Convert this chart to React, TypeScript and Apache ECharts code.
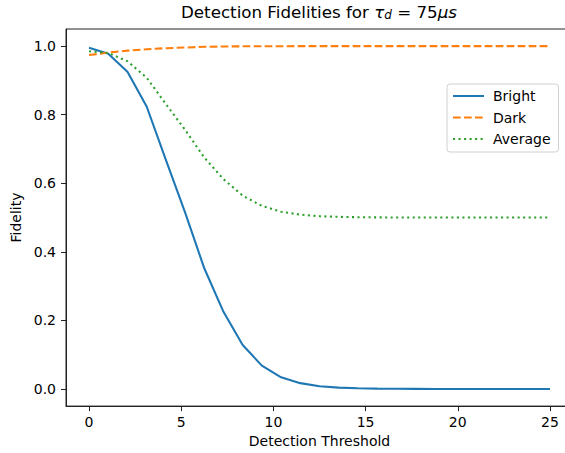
import React, { useEffect, useRef } from "react";
import * as echarts from "echarts";

const thresholds = [0, 1.042, 2.083, 3.125, 4.167, 5.208, 6.25, 7.292, 8.333, 9.375, 10.417, 11.458, 12.5, 13.542, 14.583, 15.625, 16.667, 17.708, 18.75, 19.792, 20.833, 21.875, 22.917, 23.958, 25];
const bright = [0.995, 0.978, 0.925, 0.824, 0.668, 0.515, 0.352, 0.225, 0.128, 0.068, 0.034, 0.017, 0.008, 0.004, 0.002, 0.001, 0.0005, 0.0002, 0, 0, 0, 0, 0, 0, 0];
const dark = [0.974, 0.981, 0.987, 0.991, 0.994, 0.996, 0.998, 0.999, 0.9995, 0.9998, 0.9999, 1, 1, 1, 1, 1, 1, 1, 1, 1, 1, 1, 1, 1, 1];
const average = [0.985, 0.98, 0.956, 0.908, 0.831, 0.756, 0.675, 0.612, 0.564, 0.534, 0.517, 0.5085, 0.504, 0.502, 0.501, 0.5005, 0.5002, 0.5001, 0.5, 0.5, 0.5, 0.5, 0.5, 0.5, 0.5];
const xTicks = [0, 5, 10, 15, 20, 25];
const yTicks = [0, 0.2, 0.4, 0.6, 0.8, 1.0];

const FONT = "DejaVu Sans";
const INNER_W = 580;

export default function App() {
  const ref = useRef<HTMLDivElement>(null);
  useEffect(() => {
    if (!ref.current) return;
    const chart = echarts.init(ref.current, undefined, { renderer: "svg" });
    const pair = (ys: number[]) => thresholds.map((x, i) => [x, ys[i]]);
    chart.setOption({
      animation: false,
      backgroundColor: "#fff",
      textStyle: { fontFamily: FONT },
      title: {
        text: "Detection Fidelities for {i|τ}{sub|d}{n| = 75}{i|μs}",
        left: 181,
        top: 3,
        padding: 0,
        textStyle: {
          fontFamily: FONT,
          fontSize: 16.7,
          fontWeight: "normal",
          color: "#000",
          rich: {
            i: { fontFamily: FONT, fontSize: 16.7, fontStyle: "italic", color: "#000" },
            sub: { fontFamily: FONT, fontSize: 12, fontStyle: "italic", color: "#000", verticalAlign: "bottom", padding: [6, 0, 0, 0] },
            n: { fontFamily: FONT, fontSize: 16.7, color: "#000" },
          },
        },
      },
      grid: { left: 66, top: 29, right: INNER_W - 573, bottom: 46, show: true, borderColor: "#222", borderWidth: 1, backgroundColor: "transparent" },
      legend: {
        orient: "vertical",
        left: 447,
        top: 84,
        padding: [5, 8, 6, 5],
        itemWidth: 31,
        itemHeight: 14,
        itemGap: 7.5,
        borderColor: "#d0d0d0",
        borderWidth: 1,
        borderRadius: 3,
        backgroundColor: "rgba(255,255,255,0.8)",
        itemStyle: { opacity: 0 },
        textStyle: { fontFamily: FONT, fontSize: 14, color: "#000", padding: [0, 0, 0, 4] },
        data: ["Bright", "Dark", "Average"],
      },
      xAxis: {
        type: "value",
        min: -1.25,
        max: 26.25,
        name: "Detection Threshold",
        nameLocation: "middle",
        nameGap: 27,
        nameTextStyle: { fontFamily: FONT, fontSize: 14, color: "#000" },
        splitLine: { show: false },
        axisLine: { show: true, onZero: false, lineStyle: { color: "#222", width: 1 } },
        axisTick: { show: true, length: 5, lineStyle: { color: "#222" }, customValues: xTicks },
        axisLabel: { fontFamily: FONT, fontSize: 14, color: "#000", margin: 9, customValues: xTicks, formatter: (v: number) => String(v) },
      },
      yAxis: {
        type: "value",
        min: -0.05,
        max: 1.05,
        name: "Fidelity",
        nameLocation: "middle",
        nameGap: 37,
        nameTextStyle: { fontFamily: FONT, fontSize: 14, color: "#000" },
        splitLine: { show: false },
        axisLine: { show: true, onZero: false, lineStyle: { color: "#222", width: 1 } },
        axisTick: { show: true, length: 5, lineStyle: { color: "#222" }, customValues: yTicks },
        axisLabel: { fontFamily: FONT, fontSize: 14, color: "#000", margin: 10, customValues: yTicks, formatter: (v: number) => v.toFixed(1) },
      },
      series: [
        {
          name: "Bright",
          type: "line",
          data: pair(bright),
          symbol: "none",
          showSymbol: false,
          color: "#1f77b4",
          lineStyle: { color: "#1f77b4", width: 2.08 },
        },
        {
          name: "Dark",
          type: "line",
          data: pair(dark),
          symbol: "none",
          showSymbol: false,
          color: "#ff7f0e",
          lineStyle: { color: "#ff7f0e", width: 2.08, type: [7.7, 3.3], cap: "butt" },
        },
        {
          name: "Average",
          type: "line",
          data: pair(average),
          symbol: "none",
          showSymbol: false,
          color: "#2ca02c",
          lineStyle: { color: "#2ca02c", width: 2.08, type: [2.08, 3.44], cap: "butt" },
        },
      ],
    });
    return () => chart.dispose();
  }, []);
  return (
    <div style={{ position: "fixed", left: 0, top: 0, width: 565, height: 453, overflow: "hidden", background: "#fff" }}>
      <div ref={ref} style={{ width: INNER_W, height: 453, position: "absolute", left: 0, top: 0 }} />
    </div>
  );
}
